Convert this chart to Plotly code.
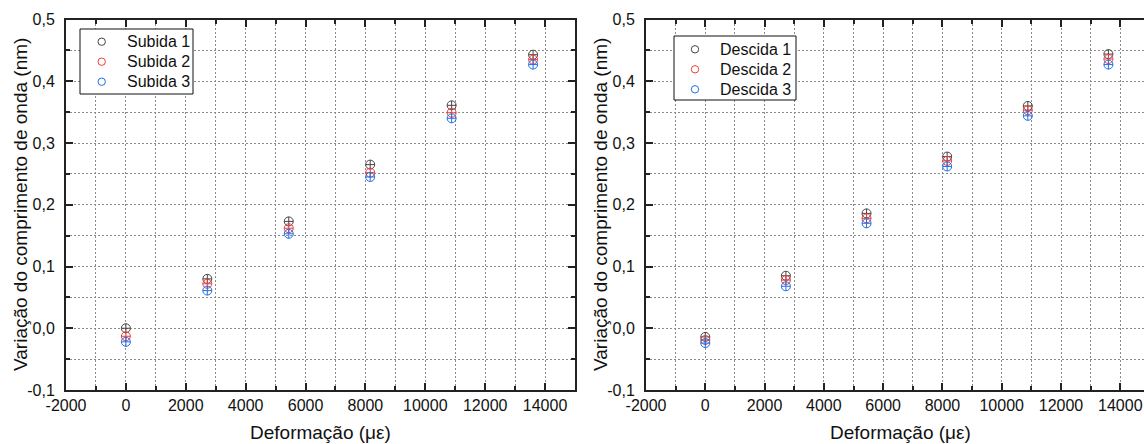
import plotly.graph_objects as go

# Strain steps (microstrain)
deformacao = [0, 2720, 5440, 8160, 10880, 13600]

# Wavelength shift (nm) - loading cycles
subida_1 = [0.000, 0.080, 0.173, 0.265, 0.361, 0.443]
subida_2 = [-0.013, 0.072, 0.162, 0.252, 0.349, 0.435]
subida_3 = [-0.022, 0.061, 0.153, 0.245, 0.340, 0.427]

# Wavelength shift (nm) - unloading cycles
descida_1 = [-0.014, 0.085, 0.186, 0.278, 0.360, 0.444]
descida_2 = [-0.019, 0.078, 0.178, 0.271, 0.353, 0.436]
descida_3 = [-0.024, 0.068, 0.170, 0.262, 0.344, 0.427]

nomes_subida = ["Subida 1", "Subida 2", "Subida 3"]
nomes_descida = ["Descida 1", "Descida 2", "Descida 3"]

x_tickvals = [-2000, 0, 2000, 4000, 6000, 8000, 10000, 12000, 14000]
x_ticktext = ["-2000", "0", "2000", "4000", "6000", "8000", "10000", "12000", "14000"]
y_tickvals = [-0.1, 0.0, 0.1, 0.2, 0.3, 0.4, 0.5]
y_ticktext = ["-0,1", "0,0", "0,1", "0,2", "0,3", "0,4", "0,5"]

colors = ["#454545", "#f03c3c", "#1f6fe8"]
FONT = "Liberation Sans, Arial, sans-serif"
W, H = 1144, 444


def px(x):
    return x / W


def py(y):
    return 1 - y / H


fig = go.Figure()

for names, series, xa, ya in [
    (nomes_subida, [subida_1, subida_2, subida_3], "x", "y"),
    (nomes_descida, [descida_1, descida_2, descida_3], "x2", "y2"),
]:
    for name, vals, col in zip(names, series, colors):
        fig.add_trace(go.Scatter(
            x=deformacao, y=vals, mode="markers", xaxis=xa, yaxis=ya, name=name,
            marker=dict(symbol="circle-cross-open", size=9, color=col, line=dict(width=1, color=col)),
            showlegend=False, hoverinfo="name+x+y",
        ))

GRIDCOL = "#8a8a8a"
DASH = "2px,2px"


def xaxis_style(rng, domain, anchor):
    return dict(
        domain=domain, anchor=anchor, range=rng,
        tickvals=x_tickvals, ticktext=x_ticktext, automargin=False, ticklabeloverflow="allow",
        ticks="inside", ticklen=7, tickwidth=1.5, tickcolor="#222",
        showline=True, linewidth=2, linecolor="#222", mirror="ticks",
        showgrid=True, gridcolor=GRIDCOL, griddash=DASH, gridwidth=1,
        minor=dict(dtick=1000, tick0=0, ticks="inside", ticklen=4, tickcolor="#222",
                   showgrid=True, gridcolor=GRIDCOL, griddash=DASH),
        tickfont=dict(family=FONT, size=16, color="#111"),
        zeroline=False,
    )


def yaxis_style(domain, anchor, mirror):
    return dict(
        domain=domain, anchor=anchor, range=[-0.1, 0.5],
        tickvals=y_tickvals, ticktext=y_ticktext, automargin=False,
        ticks="inside", ticklen=7, tickwidth=1.5, tickcolor="#222",
        showline=True, linewidth=2, linecolor="#222", mirror=mirror,
        showgrid=True, gridcolor=GRIDCOL, griddash=DASH, gridwidth=1,
        minor=dict(dtick=0.05, tick0=0, ticks="inside", ticklen=4, tickcolor="#222",
                   showgrid=True, gridcolor=GRIDCOL, griddash=DASH),
        tickfont=dict(family=FONT, size=16, color="#111"),
        ticklabelstandoff=6,
        zeroline=False,
    )


ydom = [py(390), py(19.5)]
fig.update_layout(
    width=W, height=H,
    margin=dict(l=0, r=0, t=0, b=0),
    paper_bgcolor="white", plot_bgcolor="white",
    showlegend=False,
    xaxis=xaxis_style([-2000, 15000], [px(66), px(575)], "y"),
    yaxis=yaxis_style(ydom, "x", "ticks"),
    xaxis2=xaxis_style([-2000, 14800], [px(646), 1.0], "y2"),
    yaxis2=yaxis_style(ydom, "x2", False),
)

annotations = []
shapes = []

# axis titles
for cx in (320.5, 900):
    annotations.append(dict(text="Deformação (με)", x=px(cx), y=py(432), xref="paper", yref="paper",
                            xanchor="center", yanchor="middle", showarrow=False,
                            font=dict(family=FONT, size=19, color="#111")))
for cx in (20, 600):
    annotations.append(dict(text="Variação do comprimento de onda (nm)", x=px(cx), y=py(205),
                            xref="paper", yref="paper", textangle=-90,
                            xanchor="center", yanchor="middle", showarrow=False,
                            font=dict(family=FONT, size=19, color="#111")))

# legend boxes
legends = [
    (nomes_subida, (80, 29, 193, 94), 101.7, 125, [41.7, 61.7, 81.7]),
    (nomes_descida, (674, 36, 796, 100), 695, 718, [49.3, 69.3, 89.3]),
]
for names, (x0, y0, x1, y1), mx, tx, rows in legends:
    shapes.append(dict(type="rect", xref="paper", yref="paper",
                       x0=px(x0), y0=py(y1), x1=px(x1), y1=py(y0),
                       line=dict(color="#111", width=1), fillcolor="white", layer="above"))
    for name, col, ry in zip(names, colors, rows):
        r = 3.7
        shapes.append(dict(type="circle", xref="paper", yref="paper",
                           x0=px(mx - r), x1=px(mx + r), y0=py(ry + r), y1=py(ry - r),
                           line=dict(color=col, width=1), layer="above"))
        annotations.append(dict(text=name, x=px(tx), y=py(ry), xref="paper", yref="paper",
                                xanchor="left", yanchor="middle", showarrow=False,
                                font=dict(family=FONT, size=16, color="#111")))

fig.update_layout(annotations=annotations, shapes=shapes)

fig.write_html("out.html")
